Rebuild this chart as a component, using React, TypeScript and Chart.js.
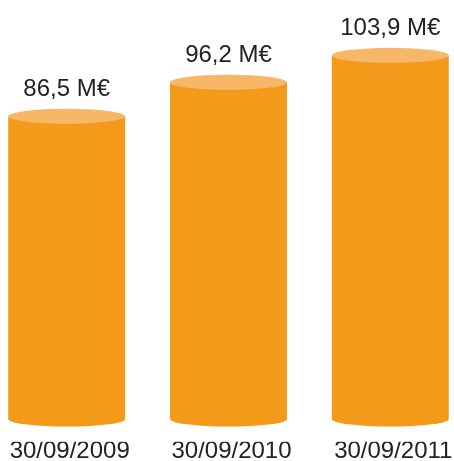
import React, { useEffect, useRef } from "react";
import { Chart, registerables } from "chart.js";

Chart.register(...registerables);

const categories = ["30/09/2009", "30/09/2010", "30/09/2011"];
const values = [86.5, 96.2, 103.9];
const valueLabels = ["86,5 M€", "96,2 M€", "103,9 M€"];

const BAR_COLOR = "#F39A1A";
const TOP_COLOR = "#F7B766";
const TEXT_COLOR = "#222222";
const FONT = '"Liberation Sans", Arial, Helvetica, sans-serif';

const cylinderPlugin = {
  id: "cylinder",
  afterDatasetsDraw(chart: any) {
    const ctx = chart.ctx;
    const meta = chart.getDatasetMeta(0);
    ctx.save();
    meta.data.forEach((bar: any, i: number) => {
      const { x, y, base, width } = bar.getProps(["x", "y", "base", "width"], true);
      const rx = width / 2;
      const ry = 7.5;
      // bottom ellipse
      ctx.beginPath();
      ctx.ellipse(x, base, rx, ry, 0, 0, Math.PI);
      ctx.fillStyle = BAR_COLOR;
      ctx.fill();
      // top ellipse
      ctx.beginPath();
      ctx.ellipse(x, y, rx, ry, 0, 0, Math.PI * 2);
      ctx.fillStyle = TOP_COLOR;
      ctx.fill();
      // value label
      ctx.fillStyle = TEXT_COLOR;
      ctx.font = `24px ${FONT}`;
      ctx.textAlign = "center";
      ctx.textBaseline = "alphabetic";
      ctx.fillText(valueLabels[i], x, y - 20);
    });
    ctx.restore();
  },
};

export default function App() {
  const ref = useRef<HTMLCanvasElement>(null);
  useEffect(() => {
    if (!ref.current) return;
    const chart = new Chart(ref.current, {
      type: "bar",
      data: {
        labels: categories,
        datasets: [
          {
            data: values,
            backgroundColor: BAR_COLOR,
            borderWidth: 0,
            categoryPercentage: 1,
            barPercentage: 0.7226,
            clip: false as any,
          },
        ],
      },
      options: {
        responsive: false,
        animation: false,
        layout: { padding: { top: 6, left: 66.7, right: 63.7, bottom: 0 } },
        plugins: { legend: { display: false }, tooltip: { enabled: false } },
        scales: {
          x: {
            offset: false,
            grid: { display: false, drawTicks: false },
            border: { display: false },
            ticks: {
              color: TEXT_COLOR,
              font: { size: 24, family: FONT, lineHeight: 0.8 },
              padding: 0,
              labelOffset: 3,
              maxRotation: 0,
              autoSkip: false,
            },
          },
          y: { display: false, min: -6.51, max: 118 },
        },
      },
      plugins: [cylinderPlugin],
    });
    return () => chart.destroy();
  }, []);
  return (
    <div style={{ position: "fixed", left: 0, top: 0, width: 454, height: 461, background: "#fff" }}>
      <canvas ref={ref} width={454} height={461} />
    </div>
  );
}
